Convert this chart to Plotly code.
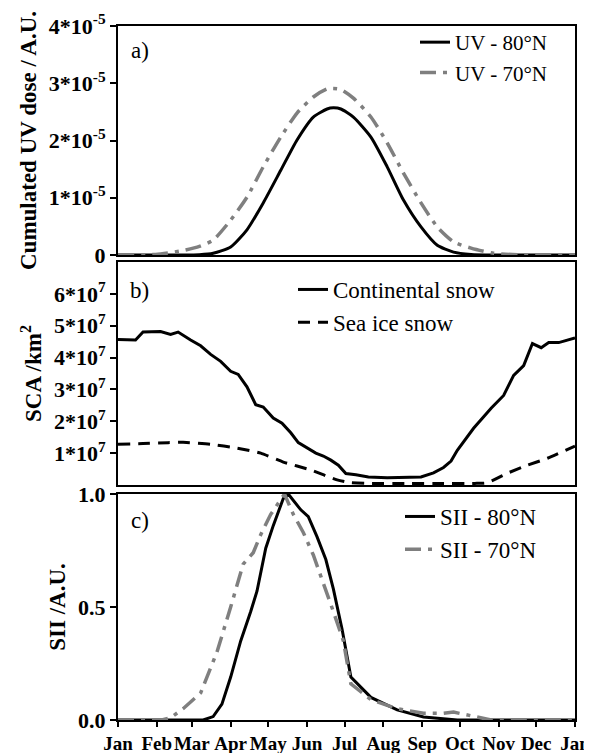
import plotly.graph_objects as go

# ---------------- data (day of year) ----------------
month_ticks = [0, 31, 59, 90, 120, 151, 181, 212, 243, 273, 304, 334, 365]
month_labels = ["Jan", "Feb", "Mar", "Apr", "May", "Jun", "Jul", "Aug", "Sep", "Oct", "Nov", "Dec", "Jan"]

# panel a: cumulated UV dose (units of 1e-5 A.U.)
uv_days = [0, 30, 50, 65, 76, 90, 103, 116, 130, 143, 156, 167, 172, 178, 188, 202, 215, 228, 242, 255, 268, 282, 300, 320, 365]
uv_80 = [0, 0, 0, 0.005, 0.03, 0.14, 0.44, 0.91, 1.48, 2.01, 2.41, 2.55, 2.57, 2.55, 2.41, 2.06, 1.54, 0.96, 0.49, 0.17, 0.05, 0.01, 0, 0, 0]
uv_70 = [0, 0.01, 0.07, 0.15, 0.26, 0.61, 1.01, 1.54, 2.06, 2.48, 2.76, 2.90, 2.91, 2.89, 2.74, 2.41, 1.96, 1.43, 0.91, 0.49, 0.23, 0.12, 0.03, 0.005, 0]
uv_scale = 1e-5
uv_tickvals = [0, 1e-5, 2e-5, 3e-5, 4e-5]
uv_ticktext = ["0", "1*10<sup>-5</sup>", "2*10<sup>-5</sup>", "3*10<sup>-5</sup>", "4*10<sup>-5</sup>"]

# panel b: snow covered area (units of 1e7 km2)
cont_days = [0, 7, 14, 20, 34, 42, 48, 58, 66, 74, 82, 90, 96, 103, 110, 116, 124, 131, 138, 144, 151, 158, 164, 170, 176, 182,
             190, 200, 215, 230, 242, 252, 260, 266, 271, 284, 298, 308, 316, 324, 331, 338, 344, 352, 365]
cont_snow = [4.57, 4.56, 4.55, 4.80, 4.82, 4.73, 4.80, 4.55, 4.37, 4.10, 3.88, 3.57, 3.47, 3.08, 2.52, 2.45, 2.10, 1.94, 1.64, 1.33, 1.16, 1.00, 0.91, 0.78, 0.62, 0.36,
             0.32, 0.25, 0.23, 0.23, 0.25, 0.38, 0.55, 0.75, 1.09, 1.78, 2.41, 2.81, 3.44, 3.75, 4.44, 4.31, 4.47, 4.47, 4.62]
sea_days = [0, 20, 40, 52, 74, 95, 114, 132, 154, 175, 185, 200, 230, 260, 285, 295, 311, 327, 343, 365]
sea_snow = [1.28, 1.30, 1.33, 1.34, 1.28, 1.16, 1.00, 0.72, 0.47, 0.16, 0.08, 0.05, 0.05, 0.05, 0.05, 0.07, 0.37, 0.62, 0.84, 1.22]
sca_scale = 1e7
sca_tickvals = [1e7, 2e7, 3e7, 4e7, 5e7, 6e7]
sca_ticktext = ["1*10<sup>7</sup>", "2*10<sup>7</sup>", "3*10<sup>7</sup>", "4*10<sup>7</sup>", "5*10<sup>7</sup>", "6*10<sup>7</sup>"]

# panel c: SII
sii80_days = [0, 60, 68, 76, 83, 90, 98, 106, 111, 118, 124, 132, 136, 146, 152, 159, 166, 172, 179, 186, 202, 223, 244, 271, 300, 365]
sii_80 = [0, 0, 0.0, 0.015, 0.07, 0.19, 0.35, 0.48, 0.57, 0.76, 0.86, 0.98, 1.0, 0.93, 0.90, 0.81, 0.71, 0.58, 0.40, 0.19, 0.10, 0.045, 0.013, 0.0, 0, 0]
sii70_days = [0, 35, 42, 52, 66, 79, 90, 100, 108, 114, 122, 133, 140, 148, 156, 164, 172, 180, 186, 202, 223, 244, 260, 268, 282, 298, 365]
sii_70 = [0, 0, 0.01, 0.05, 0.12, 0.30, 0.50, 0.69, 0.74, 0.82, 0.91, 1.0, 0.91, 0.83, 0.73, 0.61, 0.48, 0.35, 0.16, 0.09, 0.05, 0.03, 0.03, 0.035, 0.02, 0, 0]

# ---------------- styles ----------------
FONT = "Liberation Serif"
GRAY = "#7f7f7f"
DASHDOT = "16px,7px,4px,7px"
DASH = "12px,8px"
LW = 3

fig = go.Figure()

fig.add_trace(go.Scatter(x=uv_days, y=[v * uv_scale for v in uv_80], mode="lines", name="UV - 80°N",
                         line=dict(color="black", width=LW, shape="spline", smoothing=0.6),
                         xaxis="x", yaxis="y", legend="legend"))
fig.add_trace(go.Scatter(x=uv_days, y=[v * uv_scale for v in uv_70], mode="lines", name="UV - 70°N",
                         line=dict(color=GRAY, width=LW + 0.5, dash=DASHDOT, shape="spline", smoothing=0.6),
                         xaxis="x", yaxis="y", legend="legend"))

fig.add_trace(go.Scatter(x=cont_days, y=[v * sca_scale for v in cont_snow], mode="lines", name="Continental snow",
                         line=dict(color="black", width=LW),
                         xaxis="x2", yaxis="y2", legend="legend2"))
fig.add_trace(go.Scatter(x=sea_days, y=[v * sca_scale for v in sea_snow], mode="lines", name="Sea ice snow",
                         line=dict(color="black", width=LW, dash=DASH, shape="spline", smoothing=0.5),
                         xaxis="x2", yaxis="y2", legend="legend2"))

fig.add_trace(go.Scatter(x=sii80_days, y=sii_80, mode="lines", name="SII - 80°N",
                         line=dict(color="black", width=LW),
                         xaxis="x3", yaxis="y3", legend="legend3"))
fig.add_trace(go.Scatter(x=sii70_days, y=sii_70, mode="lines", name="SII - 70°N",
                         line=dict(color=GRAY, width=LW + 0.5, dash=DASHDOT),
                         xaxis="x3", yaxis="y3", legend="legend3"))

# ---------------- layout ----------------
ytickfont = dict(family=FONT, size=22, color="black", weight="bold")
xtickfont = dict(family=FONT, size=19, color="black", weight="bold")
titlefont = dict(family=FONT, size=23, color="black", weight="bold")
legfont_a = dict(family=FONT, size=21, color="black")
legfont = dict(family=FONT, size=23, color="black")

# the page body keeps an 8px margin; the figure is placed 8px in from the top-left
PAGE_OFF = 8
H_PLOT = 694.0
def dom(top_px, bot_px):
    return [(720 - bot_px) / H_PLOT, (720 - top_px) / H_PLOT]

common_x = dict(range=[0, 365], showline=True, linewidth=2, linecolor="black", mirror=True,
                showgrid=False, zeroline=False, domain=[0, 1], automargin=False)
common_y = dict(showline=True, linewidth=2, linecolor="black", mirror=True, showgrid=False, zeroline=False,
                ticks="outside", ticklen=6, tickwidth=2, tickcolor="black", tickfont=ytickfont, automargin=False)

fig.update_layout(
    width=592 - PAGE_OFF, height=753 - PAGE_OFF,
    margin=dict(l=118 - PAGE_OFF, r=17, t=26 - PAGE_OFF, b=33),
    paper_bgcolor="white", plot_bgcolor="white",
    font=dict(family=FONT, color="black"),
    xaxis=dict(common_x, anchor="y", showticklabels=False, ticks=""),
    xaxis2=dict(common_x, anchor="y2", matches="x", showticklabels=False, ticks=""),
    xaxis3=dict(common_x, anchor="y3", matches="x", tickmode="array", tickvals=month_ticks, ticktext=month_labels,
                tickangle=0, ticks="outside", ticklen=5, tickwidth=2, tickcolor="black", tickfont=xtickfont),
    yaxis=dict(common_y, domain=dom(26, 255), anchor="x", range=[0, 4e-5], tickmode="array",
               tickvals=uv_tickvals, ticktext=uv_ticktext,
               title=dict(text="Cumulated UV dose / A.U.", font=titlefont, standoff=6)),
    yaxis2=dict(common_y, domain=dom(262, 485), anchor="x2", range=[0, 7e7], tickmode="array",
                tickvals=sca_tickvals, ticktext=sca_ticktext,
                title=dict(text="SCA /km<sup>2</sup>", font=titlefont, standoff=6)),
    yaxis3=dict(common_y, domain=dom(494, 720), anchor="x3", range=[0, 1], tickmode="array",
                tickvals=[0, 0.5, 1.0], ticktext=["0.0", "0.5", "1.0"],
                title=dict(text="SII /A.U.", font=titlefont, standoff=6)),
    legend=dict(x=(415 - 118) / 457, y=(720 - 22) / H_PLOT, xanchor="left", yanchor="top",
                bgcolor="rgba(0,0,0,0)", font=legfont_a),
    legend2=dict(x=(293 - 118) / 457, y=(720 - 268) / H_PLOT, xanchor="left", yanchor="top",
                 bgcolor="rgba(0,0,0,0)", font=legfont),
    legend3=dict(x=(400 - 118) / 457, y=(720 - 495) / H_PLOT, xanchor="left", yanchor="top",
                 bgcolor="rgba(0,0,0,0)", font=legfont),
    showlegend=True,
)

panel_font = dict(family=FONT, size=23, color="black")
for ref, label, yy in [("", "a)", 1 - 24 / 229), ("2", "b)", 1 - 28 / 223), ("3", "c)", 1 - 26 / 226)]:
    fig.add_annotation(text=label, xref=f"x{ref} domain", yref=f"y{ref} domain", x=0.048, y=yy,
                       xanchor="center", yanchor="middle", showarrow=False, font=panel_font)

fig.write_html("out.html")
